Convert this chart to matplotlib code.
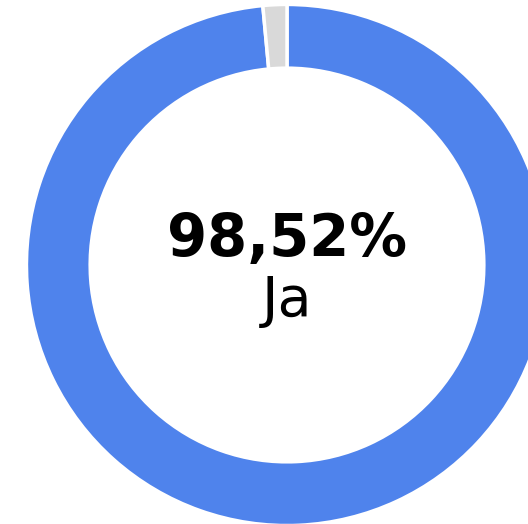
import matplotlib.pyplot as plt

# donut data
labels = ['Ja', 'Nein']
values = [98.52, 1.48]
colors = ['#4f83ec', '#d9d9d9']
center_value = '98,52%'
center_label = 'Ja'

W, H = 528, 524
cx, cy, R = 287, 265, 259

fig = plt.figure(figsize=(W / 100, H / 100), dpi=100)
ax = fig.add_axes([0, 0, 1, 1])

ax.pie(values, colors=colors, startangle=90, counterclock=False, radius=1.006,
       wedgeprops=dict(width=0.246, edgecolor='white', linewidth=2.5))

ax.set_xlim(-cx / R, (W - cx) / R)
ax.set_ylim(-(H - cy) / R, cy / R)
ax.set_aspect('equal')
ax.axis('off')

ax.text(0, (cy - 256) / R, center_value, ha='center', va='baseline',
        fontsize=41.5, fontweight='bold', color='black')
ax.text(0, (cy - 316) / R, center_label, ha='center', va='baseline',
        fontsize=40, color='black')

fig.savefig('out.png', dpi=100)
